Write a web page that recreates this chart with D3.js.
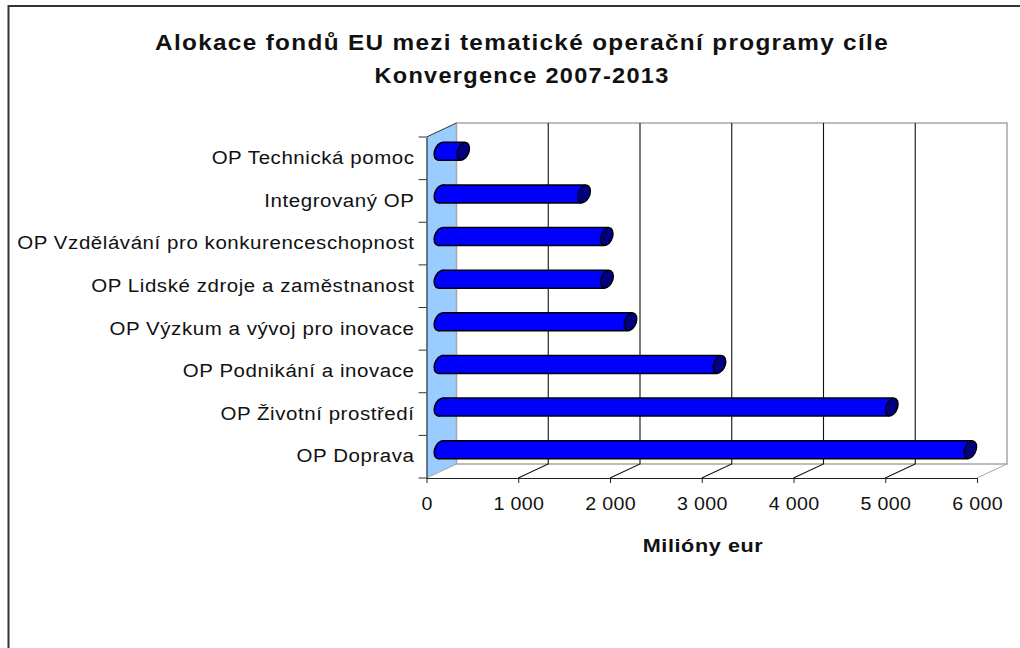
<!DOCTYPE html>
<html><head><meta charset="utf-8">
<script src="https://cdn.jsdelivr.net/npm/d3@7"></script>
<style>html,body{margin:0;padding:0;background:#fff}svg{display:block}text{font-family:"Liberation Sans",Arial,sans-serif;fill:#111}</style>
</head><body><svg id="c" width="1020" height="648"></svg>
<script>
const categories=["OP Technická pomoc","Integrovaný OP","OP Vzdělávání pro konkurenceschopnost","OP Lidské zdroje a zaměstnanost","OP Výzkum a vývoj pro inovace","OP Podnikání a inovace","OP Životní prostředí","OP Doprava"];
const values=[247,1565,1812,1815,2070,3041,4918,5774];
const xTicks=[0,1000,2000,3000,4000,5000,6000];
const titleLines=["Alokace fondů EU mezi tematické operační programy cíle","Konvergence 2007-2013"];
const xLabel="Milióny eur";
const svg=d3.select("#c");
const fmt=v=>d3.format(",")(v).replace(/,/g," ");
const stretch=(sel,f)=>sel.each(function(){const n=this.getComputedTextLength();d3.select(this).attr("textLength",n*f).attr("lengthAdjust","spacingAndGlyphs");});
const x=d3.scaleLinear().domain([0,6000]).range([426.5,977]);
const y=d3.scaleBand().domain(categories).range([137,478]);
const dx=30,dy=-14,yTop=y.range()[0],yBot=y.range()[1];
svg.append("rect").attr("x",8.5).attr("y",6).attr("width",1040).attr("height",700).attr("fill","#fff").attr("stroke","#333").attr("stroke-width",2);
// side wall and back wall
svg.append("path").attr("d",`M${x(0)},${yTop}L${x(0)+dx},${yTop+dy}V${yBot+dy}L${x(0)},${yBot}Z`).attr("fill","#99ccff");
svg.append("path").attr("d",`M${x(0)+dx},${yTop+dy}H${x(6000)+dx}V${yBot+dy}H${x(0)+dx}Z`).attr("fill","#fff").attr("stroke","#a6a6a6").attr("stroke-width",1.5);
svg.append("path").attr("d",`M${x(0)},${yBot}L${x(0)+dx},${yBot+dy}`).attr("stroke","#a6a6a6").attr("fill","none");
svg.append("path").attr("d",`M${x(6000)},${yBot}L${x(6000)+dx},${yBot+dy}`).attr("stroke","#a6a6a6").attr("fill","none");
svg.append("path").attr("d",`M${x(0)},${yTop}L${x(0)+dx},${yTop+dy}`).attr("stroke","#333").attr("fill","none");
// gridlines
xTicks.slice(1,-1).forEach(t=>{
 svg.append("path").attr("d",`M${x(t)+dx},${yTop+dy}V${yBot+dy}L${x(t)},${yBot}`).attr("fill","none").attr("stroke","#111").attr("stroke-width",1.1);
});
// axes
const ax=svg.append("g").attr("transform",`translate(0,${yBot})`).call(d3.axisBottom(x).tickValues(xTicks).tickFormat(fmt).tickSize(5).tickSizeOuter(0));
ax.selectAll("path,line").attr("stroke","#222");
ax.selectAll("text").style("font-size","18px").style("letter-spacing","0.3px").attr("dy",0).attr("y",32).call(stretch,1.09);
ax.select("path").attr("stroke-width",1.2);
const ay=svg.append("g").attr("transform",`translate(${x(0)},0)`).call(d3.axisLeft(y).tickSize(0).tickPadding(12));
ay.select("path").attr("stroke","#333").attr("stroke-width",1.2);
ay.selectAll("text").style("font-size","18px").style("letter-spacing","0.5px").attr("dy","0.32em").call(stretch,1.137);
[...categories.map(c=>y(c)),yBot].forEach(v=>{ay.append("line").attr("x1",-8).attr("x2",0).attr("y1",v).attr("y2",v).attr("stroke","#333");});
// bars
const h=y.bandwidth(),r=9,ex=6.3,ey=2.9,ev=8.3;
const capM=(cx,cy)=>`matrix(${ex},${-ey},0,${ev},${cx},${cy})`;
const g=svg.append("g").selectAll("g").data(categories.map((c,i)=>({c,v:values[i]}))).join("g");
const cy=d=>y(d.c)+h/2+dy/2;
const cx0=x(0)+dx/2-1;
const cx=d=>x(d.v)+dx/2-1;
g.append("ellipse").attr("rx",1).attr("ry",1).attr("vector-effect","non-scaling-stroke").attr("transform",d=>capM(cx0,cy(d))).attr("fill","#0000ff").attr("stroke","#000").attr("stroke-width",1.6);
g.append("path").attr("d",d=>`M${cx0+2.1},${cy(d)-r}L${cx(d)+2.1},${cy(d)-r}L${cx(d)-2.1},${cy(d)+r}L${cx0-2.1},${cy(d)+r}Z`).attr("fill","#0000ff");
g.append("path").attr("d",d=>`M${cx0+2.1},${cy(d)-r}H${cx(d)+2.1}M${cx(d)-2.1},${cy(d)+r}H${cx0-2.1}`).attr("fill","none").attr("stroke","#000").attr("stroke-width",1.6);
g.append("ellipse").attr("rx",1).attr("ry",1).attr("vector-effect","non-scaling-stroke").attr("transform",d=>capM(cx(d),cy(d))).attr("fill","#000080").attr("stroke","#000").attr("stroke-width",1.4);
// text
const titleWidths=[734,295];
svg.append("g").selectAll("text").data(titleLines).join("text").attr("x",522).attr("y",(d,i)=>50+i*33).attr("text-anchor","middle").style("font-size","22px").style("font-weight","bold").style("letter-spacing","1.2px").attr("textLength",(d,i)=>titleWidths[i]).attr("lengthAdjust","spacingAndGlyphs").text(d=>d);
svg.append("text").attr("x",703).attr("y",552).attr("text-anchor","middle").style("font-size","18px").style("font-weight","bold").style("letter-spacing","0.5px").text(xLabel).call(stretch,1.2);
</script></body></html>
